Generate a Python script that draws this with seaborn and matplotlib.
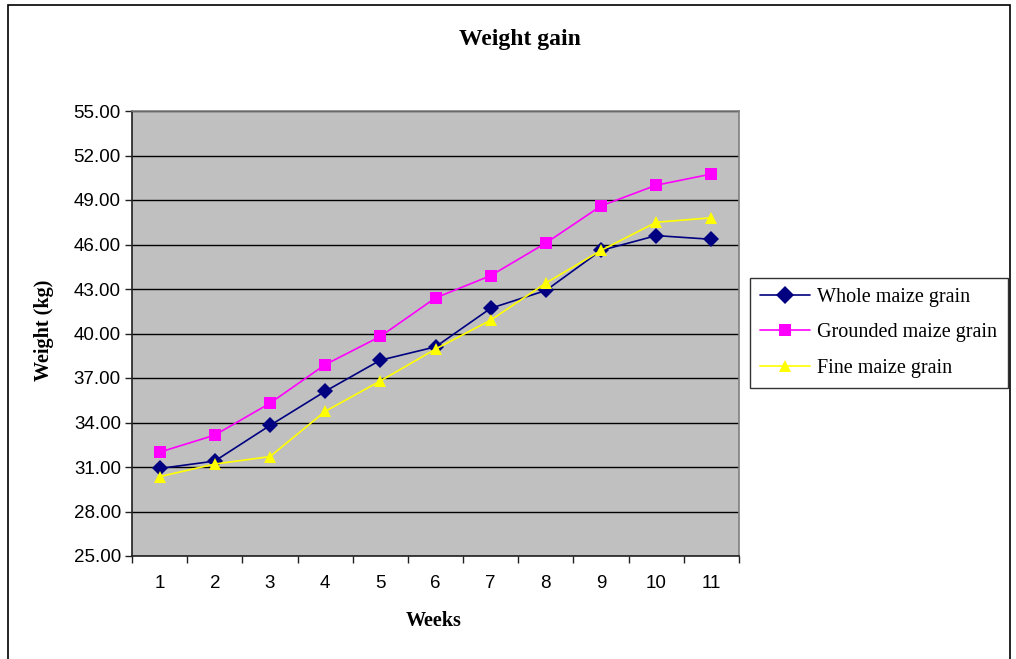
import numpy as np
import pandas as pd
import matplotlib
matplotlib.use("Agg")
import matplotlib.pyplot as plt
import seaborn as sns
from matplotlib.patches import Rectangle

# Data
weeks = [1, 2, 3, 4, 5, 6, 7, 8, 9, 10, 11]
whole = [30.9, 31.4, 33.8, 36.1, 38.2, 39.1, 41.7, 42.9, 45.6, 46.6, 46.35]
grounded = [32.0, 33.15, 35.3, 37.9, 39.8, 42.4, 43.9, 46.1, 48.6, 50.0, 50.75]
fine = [30.35, 31.2, 31.7, 34.75, 36.8, 38.95, 40.9, 43.4, 45.6, 47.5, 47.8]
series_names = ["Whole maize grain", "Grounded maize grain", "Fine maize grain"]
y_ticks = [25, 28, 31, 34, 37, 40, 43, 46, 49, 52, 55]

df = pd.DataFrame({
    "Weeks": weeks * 3,
    "Weight": whole + grounded + fine,
    "Feed": [series_names[0]] * len(weeks) + [series_names[1]] * len(weeks) + [series_names[2]] * len(weeks),
})

sns.set_style("white")
plt.rcParams["font.family"] = ["Liberation Sans", "DejaVu Sans"]
plt.rcParams["text.color"] = "black"
plt.rcParams["xtick.color"] = "black"
plt.rcParams["ytick.color"] = "black"

fig = plt.figure(figsize=(10.16, 6.59), dpi=100)
ax = fig.add_axes([132 / 1016, 1 - 556 / 659, 607 / 1016, 445 / 659])
ax.set_facecolor("#C0C0C0")

palette = {series_names[0]: "#000080", series_names[1]: "#FF00FF", series_names[2]: "#FFFF00"}
markers = {series_names[0]: "D", series_names[1]: "s", series_names[2]: "^"}
sns.lineplot(data=df, x="Weeks", y="Weight", hue="Feed", style="Feed",
             palette=palette, markers=markers, dashes=False, linewidth=1.2,
             markersize=8, markeredgewidth=0, ax=ax, legend=False, zorder=3)

ax.set_xlim(0.5, 11.5)
ax.set_ylim(25, 55)
ax.set_yticks(y_ticks)
ax.set_yticklabels([f"{v:.2f}" for v in y_ticks], fontsize=13.5)
ax.set_xticks(weeks)
ax.set_xticklabels([str(w) for w in weeks], fontsize=13.5)
ax.set_xticks(np.arange(0.5, 12, 1), minor=True)
ax.tick_params(axis="x", which="major", bottom=True, length=0, pad=14)
ax.tick_params(axis="x", which="minor", bottom=True, length=5, width=1,
               color="#202020", direction="out")
ax.tick_params(axis="y", which="major", left=True, length=5, width=1,
               color="#202020", direction="out", pad=3)
ax.grid(axis="y", color="black", linewidth=1.0)
ax.set_axisbelow(True)
for side in ["top", "right"]:
    ax.spines[side].set_color("#808080")
    ax.spines[side].set_linewidth(1.2)
for side in ["left", "bottom"]:
    ax.spines[side].set_color("#202020")
    ax.spines[side].set_linewidth(1.2)
ax.set_xlabel("")
ax.set_ylabel("")

serif = ["Liberation Serif", "DejaVu Serif"]
fig.text(520 / 1016, 1 - 40 / 659, "Weight gain", ha="center", va="center",
         fontsize=17, fontweight="bold", family=serif)
fig.text(44 / 1016, 1 - 330 / 659, "Weight (kg)", ha="center", va="center",
         rotation=90, fontsize=14.5, fontweight="bold", family=serif)
fig.text(434 / 1016, 1 - 621 / 659, "Weeks", ha="center", va="center",
         fontsize=14.5, fontweight="bold", family=serif)

# Legend built from the drawn lines
handles = ax.get_lines()[:3]
leg = fig.legend(handles, series_names, loc="upper left",
                 bbox_to_anchor=(750 / 1016, 1 - 278 / 659),
                 prop={"family": serif, "size": 14.5}, frameon=True, fancybox=False,
                 borderpad=0.5, labelspacing=0.8, handlelength=2.5, handletextpad=0.35,
                 borderaxespad=0, markerscale=1.15)
leg.get_frame().set_edgecolor("black")
leg.get_frame().set_linewidth(1.0)

# Outer chart border
fig.patches.append(Rectangle((8 / 1016, -0.01), 1002 / 1016, 1 - 5 / 659 + 0.01,
                             transform=fig.transFigure, fill=False,
                             edgecolor="black", linewidth=1.2))

fig.savefig("out.png", dpi=100)
